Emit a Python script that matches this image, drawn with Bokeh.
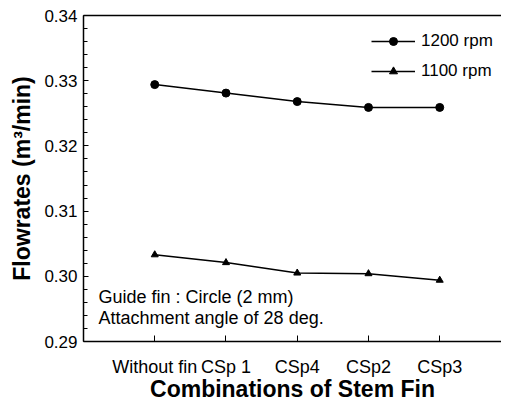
from bokeh.plotting import figure
from bokeh.models import FixedTicker, LinearAxis, Label, PrintfTickFormatter, Range1d
from bokeh.embed import file_html
from bokeh.resources import INLINE

categories = ["Without fin", "CSp 1", "CSp4", "CSp2", "CSp3"]
rpm1200 = [0.3294, 0.3281, 0.3268, 0.3259, 0.3259]
rpm1100 = [0.3033, 0.3021, 0.3005, 0.3004, 0.2994]
y_ticks = [0.29, 0.30, 0.31, 0.32, 0.33, 0.34]
y_minor = [round(0.29 + 0.002 * i, 3) for i in range(26)]
notes = ["Guide fin : Circle (2 mm)", "Attachment angle of 28 deg."]

xpos = list(range(1, len(categories) + 1))
FONT = "Liberation Sans"

p = figure(width=501, height=404, x_range=Range1d(0, 5.867), y_range=Range1d(0.29, 0.34),
           output_backend="svg", toolbar_location=None,
           min_border_left=83, min_border_right=0, min_border_top=15, min_border_bottom=62)
p.outline_line_color = None
p.xgrid.grid_line_color = None
p.ygrid.grid_line_color = None
p.background_fill_color = "white"
p.border_fill_color = "white"

# axes
xa = p.xaxis[0]
xa.ticker = FixedTicker(ticks=xpos)
xa.major_label_overrides = {i: c for i, c in zip(xpos, categories)}
xa.major_tick_in = 6
xa.major_tick_out = 0
xa.minor_tick_line_color = None
xa.axis_line_width = 1.5
xa.major_label_text_font = FONT
xa.major_label_text_font_size = "18px"
xa.major_label_text_color = "black"
xa.major_label_standoff = 15
xa.axis_label = "Combinations of Stem Fin"
xa.axis_label_text_font = FONT
xa.axis_label_text_font_style = "bold"
xa.axis_label_text_font_size = "23px"
xa.axis_label_standoff = -4
xa.axis_label_text_color = "black"

ya = p.yaxis[0]
ya.ticker = FixedTicker(ticks=y_ticks, minor_ticks=y_minor)
ya.formatter = PrintfTickFormatter(format="%.2f")
ya.major_tick_in = 5
ya.major_tick_out = 0
ya.minor_tick_in = 4
ya.minor_tick_out = 0
ya.axis_line_width = 1.5
ya.major_label_text_font = FONT
ya.major_label_text_font_size = "17px"
ya.major_label_text_color = "black"
ya.major_label_standoff = 6
ya.axis_label = "Flowrates (m³/min)"
ya.axis_label_text_font = FONT
ya.axis_label_text_font_style = "bold"
ya.axis_label_text_font_size = "23px"
ya.axis_label_standoff = 6
ya.axis_label_text_color = "black"

top = LinearAxis(ticker=FixedTicker(ticks=[]), major_tick_line_color=None,
                 minor_tick_line_color=None, major_label_standoff=0,
                 axis_line_width=1.5, axis_line_color="black")
p.add_layout(top, "above")

# series
p.line(xpos, rpm1200, line_color="black", line_width=1.5, legend_label="1200 rpm")
p.scatter(xpos, rpm1200, marker="circle", size=8, color="black", legend_label="1200 rpm")
p.line(xpos, rpm1100, line_color="black", line_width=1.5, legend_label="1100 rpm")
p.scatter(xpos, rpm1100, marker="triangle", size=7, color="black", legend_label="1100 rpm")

lg = p.legend[0]
lg.location = (288, 260)
lg.padding = 0
lg.margin = 0
lg.spacing = 10
lg.glyph_width = 44
lg.glyph_height = 20
lg.label_height = 20
lg.label_standoff = 6
lg.border_line_color = None
lg.background_fill_alpha = 0
lg.label_text_font = FONT
lg.label_text_font_size = "17px"
lg.label_text_color = "black"

for i, t in enumerate(notes):
    p.add_layout(Label(x=15, y=45 - 21 * i, x_units="screen", y_units="screen", text=t,
                       text_font=FONT, text_font_size="18px", text_color="black",
                       text_baseline="middle"))

open("out.html", "w").write(file_html(p, INLINE))
